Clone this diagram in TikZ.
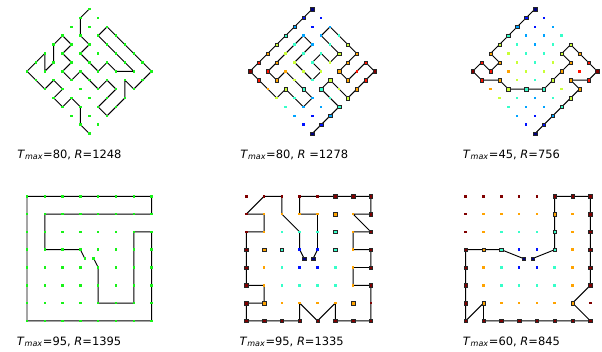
\documentclass[tikz,border=0pt]{standalone}
\usepackage{fontspec}
\setmainfont{DejaVu Sans}

\definecolor{lv0}{rgb}{0,0,0.5}
\definecolor{lv1}{rgb}{0,0.07,1}
\definecolor{lv2}{rgb}{0,0.64,1}
\definecolor{lv3}{rgb}{0.21,1,0.79}
\definecolor{lv4}{rgb}{0.79,1,0.21}
\definecolor{lv5}{rgb}{1,0.64,0}
\definecolor{lv6}{rgb}{1,0.07,0}
\definecolor{lv7}{rgb}{0.5,0,0}
\definecolor{dotgreen}{rgb}{0.1,0.95,0.1}

\newcommand{\tmax}{\textit{T}\textsubscript{\textit{max}}}

% visited cells, diamond runs (a/b)
\newcommand{\routeA}{7/0,6/1,6/3,7/4,6/5,7/6,8/7,9/6,10/7,12/7,11/6,10/5,9/4,8/3,9/2,10/3,11/4,12/5,13/6,14/7,13/8,12/9,11/8,11/10,10/11,9/12,8/11,9/10,10/9,9/8,8/9,7/8,6/7,5/8,4/7,5/6,4/5,5/4,4/3,3/4,3/6,2/7,2/5,1/6,0/7,1/8,2/9,3/8,4/9,3/10,4/11,5/10,6/11,6/13,7/14}
\newcommand{\routeB}{7/0,6/1,5/2,4/3,3/4,2/5,1/6,0/7,1/8,2/9,3/10,4/9,5/10,6/11,7/10,6/9,5/8,4/7,3/8,2/7,3/6,4/5,5/4,6/3,7/4,6/5,5/6,6/7,7/8,8/7,7/6,8/5,9/6,10/5,9/4,8/3,9/2,10/3,11/4,12/5,11/6,10/7,11/8,12/7,13/6,14/7,13/8,12/9,11/10,10/9,9/8,8/9,9/10,10/11,9/12,8/13,7/14}
\newcommand{\routeC}{7/0,6/1,5/2,4/3,3/4,2/5,3/6,2/7,1/6,0/7,1/8,3/8,4/9,6/9,8/9,9/8,10/7,11/6,10/5,11/4,12/5,13/6,14/7,13/8,11/8,12/9,11/10,10/11,9/12,8/13,7/14}
% visited cells, square runs (col/row)
\newcommand{\routeD}{3/3,2/3,1/3,1/2,1/1,2/1,3/1,4/1,5/1,6/1,7/1,7/0,6/0,5/0,4/0,3/0,2/0,1/0,0/0,0/1,0/2,0/3,0/4,0/5,0/6,0/7,1/7,2/7,3/7,4/7,5/7,6/7,7/7,7/6,7/5,7/4,7/3,7/2,6/2,6/3,6/4,6/5,6/6,5/6,4/6,4/5,4/4}
\newcommand{\routeE}{3/3,3/2,2/1,2/0,1/0,0/1,1/1,1/2,0/2,0/3,0/4,0/5,1/5,1/6,0/6,0/7,1/7,2/7,3/7,3/6,4/7,5/6,5/7,6/7,7/7,7/6,7/5,6/5,6/4,7/4,7/3,6/3,6/2,7/2,6/1,7/1,7/0,6/0,5/0,4/0,3/0,3/1,4/1,4/2,4/3}
\newcommand{\routeF}{2/3,1/3,0/3,0/4,0/5,0/6,0/7,1/6,1/7,2/7,3/7,4/7,5/7,6/7,7/7,6/6,7/5,7/4,7/3,7/2,7/1,7/0,6/0,5/0,5/1,5/2,5/3}

\begin{document}
\begin{tikzpicture}[x=0.75pt,y=-0.75pt]
\tikzset{
  griddot/.style={rectangle,inner sep=0pt,minimum size=1.9pt},
  pathmark/.style={rectangle,draw=black!85,line width=0.22pt,inner sep=0pt,minimum size=2.6pt},
  route/.style={line width=0.7pt,line join=round},
  caption/.style={anchor=base west,inner sep=0pt,font=\fontsize{8.6}{10}\selectfont}
}
\useasboundingbox (0,0) rectangle (602,352);

% diamond lattices
\foreach \p/\cx in {A/89.3,B/312.3,C/535}{
  \foreach \u in {0,...,7}{
    \foreach \v in {0,...,7}{
      \pgfmathtruncatemacro{\da}{7+\u-\v}
      \pgfmathtruncatemacro{\db}{\u+\v}
      \coordinate (p_\p_\da_\db) at ({\cx+8.9*(\da-7)},{9+8.9*\db});
    }}}
% square lattices
\foreach \p/\xo in {D/27,E/246.3,F/465.7}{
  \foreach \col in {0,...,7}{
    \foreach \row in {0,...,7}{
      \coordinate (p_\p_\col_\row) at ({\xo+17.8*\col},{196.3+17.8*\row});
    }}
  \coordinate (p_\p_s_1) at ({\xo+17.8*3.25},{196.3+17.8*3.5});
  \coordinate (p_\p_s_2) at ({\xo+17.8*3.75},{196.3+17.8*3.5});
}

% routes
\draw[route] (p_A_7_0) \foreach \da/\db in \routeA {-- (p_A_\da_\db)};
\draw[route] (p_B_7_0) \foreach \da/\db in \routeB {-- (p_B_\da_\db)};
\draw[route] (p_C_7_0) \foreach \da/\db in \routeC {-- (p_C_\da_\db)};
\draw[route] (p_D_s_1) \foreach \col/\row in \routeD {-- (p_D_\col_\row)} -- (p_D_s_2);
\draw[route] (p_E_s_1) \foreach \col/\row in \routeE {-- (p_E_\col_\row)} -- (p_E_s_2);
\draw[route] (p_F_s_1) \foreach \col/\row in \routeF {-- (p_F_\col_\row)} -- (p_F_s_2);

% lattice dots
\foreach \u in {0,...,7}{
  \foreach \v in {0,...,7}{
    \pgfmathtruncatemacro{\da}{7+\u-\v}
    \pgfmathtruncatemacro{\db}{\u+\v}
    \pgfmathtruncatemacro{\lv}{(abs(\u-\v)-abs(\u+\v-7)+7)/2}
    \node[griddot,fill=dotgreen] at (p_A_\da_\db) {};
    \node[griddot,fill=lv\lv] at (p_B_\da_\db) {};
    \node[griddot,fill=lv\lv] at (p_C_\da_\db) {};
  }}
\foreach \col in {0,...,7}{
  \foreach \row in {0,...,7}{
    \pgfmathtruncatemacro{\lv}{7-2*min(\col,\row,7-\col,7-\row)}
    \node[griddot,fill=dotgreen] at (p_D_\col_\row) {};
    \node[griddot,fill=lv\lv] at (p_E_\col_\row) {};
    \node[griddot,fill=lv\lv] at (p_F_\col_\row) {};
  }}
\node[griddot,fill=dotgreen] at (p_D_s_1) {};
\node[griddot,fill=dotgreen] at (p_D_s_2) {};

% visited cells
\foreach \p in {B,C}{
  \ifx\p B\let\cells\routeB\else\let\cells\routeC\fi
  \foreach \da/\db in \cells{
    \pgfmathtruncatemacro{\lv}{(abs(\da-7)-abs(\db-7)+7)/2}
    \node[pathmark,fill=lv\lv] at (p_\p_\da_\db) {};
  }}
\foreach \p in {E,F}{
  \ifx\p E\let\cells\routeE\else\let\cells\routeF\fi
  \foreach \col/\row in \cells{
    \pgfmathtruncatemacro{\lv}{7-2*min(\col,\row,7-\col,7-\row)}
    \node[pathmark,fill=lv\lv] at (p_\p_\col_\row) {};
  }
  \node[pathmark,fill=lv0] at (p_\p_s_1) {};
  \node[pathmark,fill=lv0] at (p_\p_s_2) {};
}

% captions
\node[caption] (lbl_A) at (17,158.5) {\tmax=80, \textit{R}=1248};
\node[caption] (lbl_B) at (240,158.5) {\tmax=80, \textit{R} =1278};
\node[caption] (lbl_C) at (462.7,158.5) {\tmax=45, \textit{R}=756};
\node[caption] (lbl_D) at (16.7,345.5) {\tmax=95, \textit{R}=1395};
\node[caption] (lbl_E) at (239.3,345.5) {\tmax=95, \textit{R}=1335};
\node[caption] (lbl_F) at (462.7,345.5) {\tmax=60, \textit{R}=845};
\end{tikzpicture}
\end{document}
